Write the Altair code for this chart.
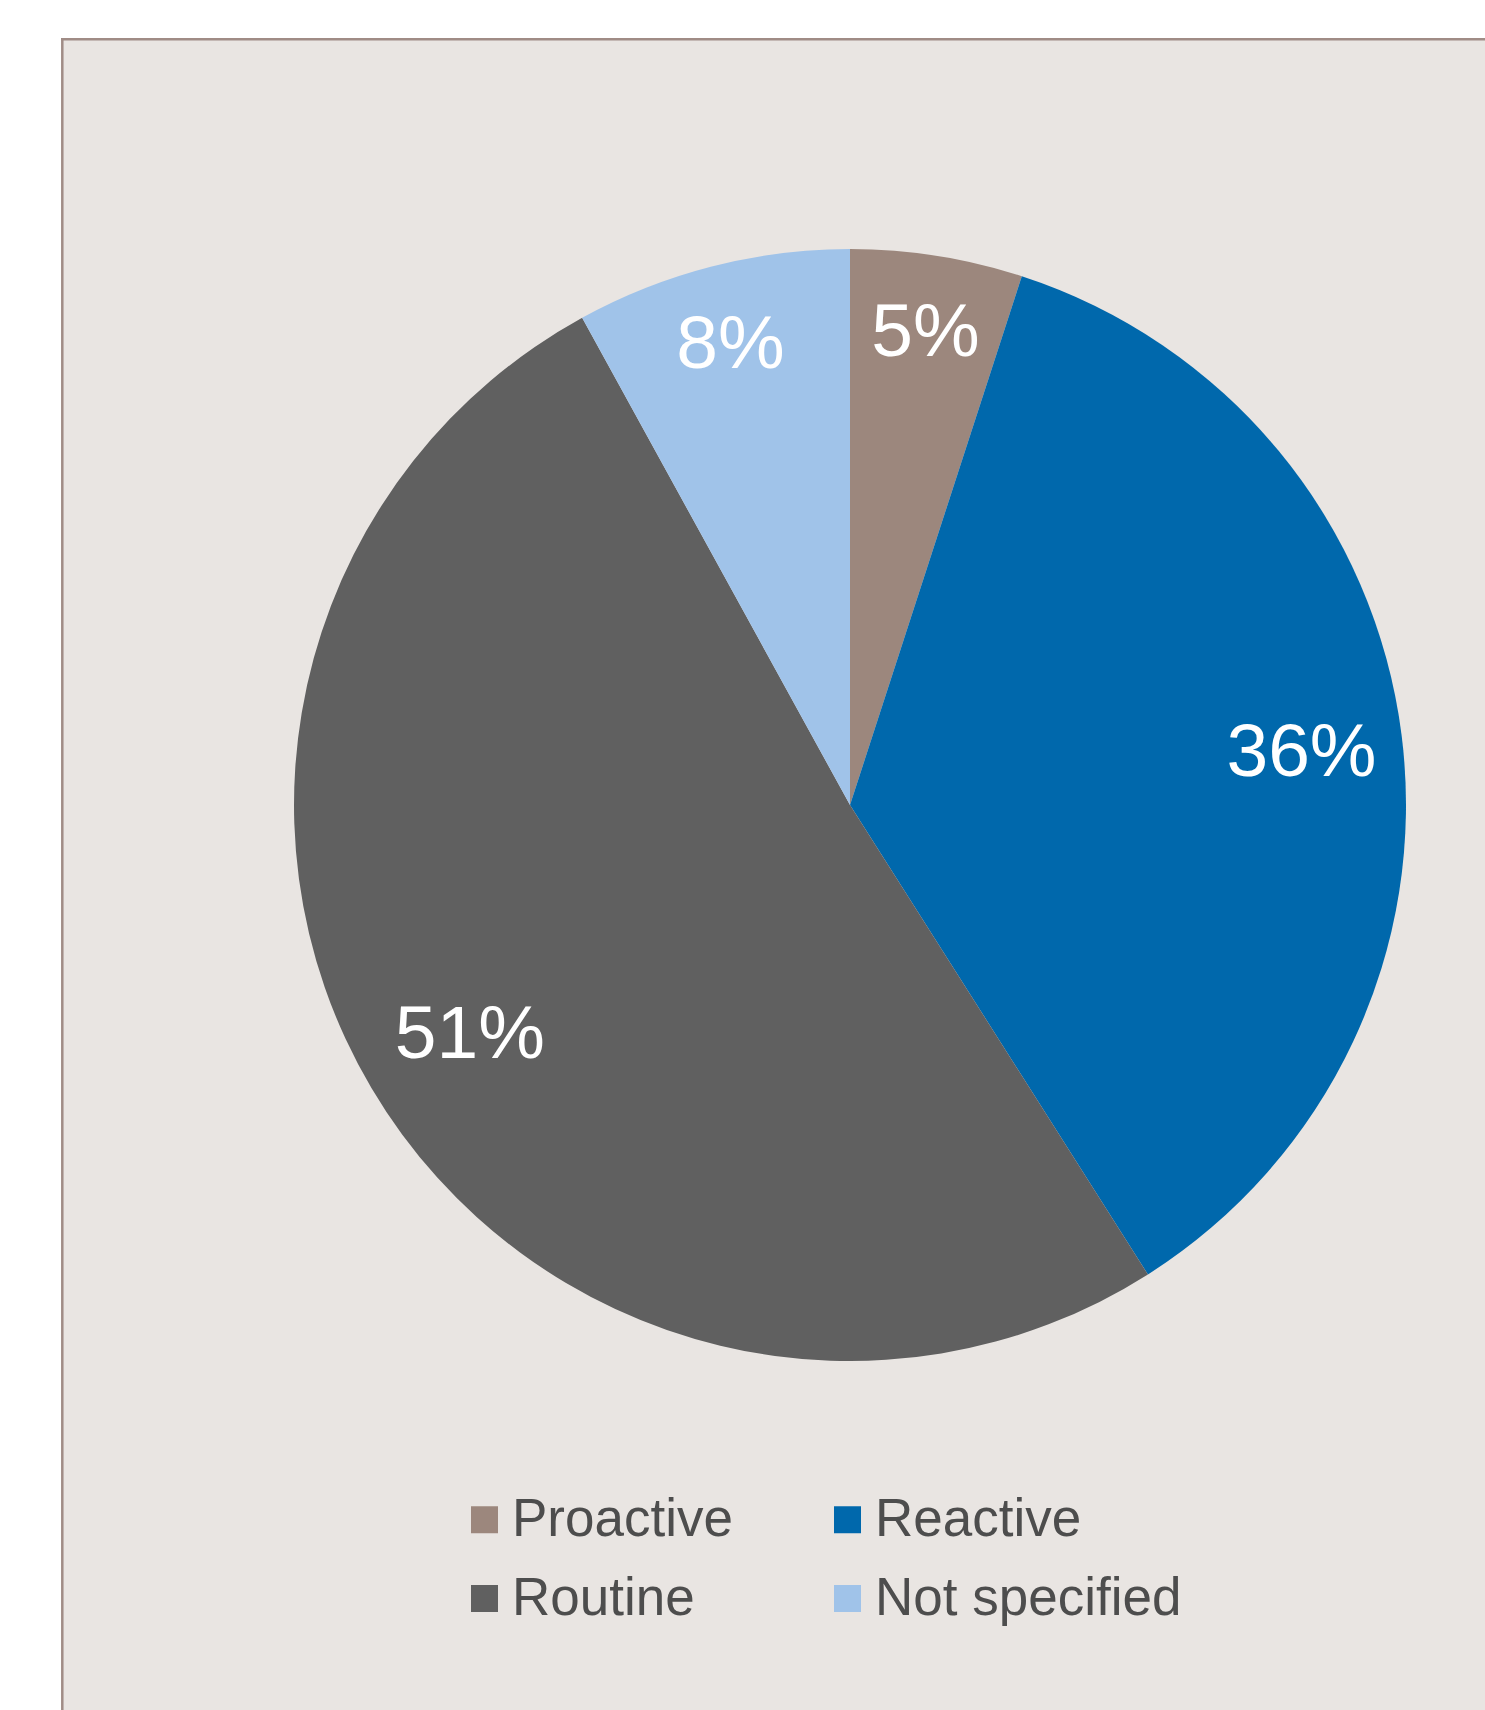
import altair as alt
import pandas as pd

categories = ["Proactive", "Reactive", "Routine", "Not specified"]
values = [5, 36, 51, 8]
labels = ["5%", "36%", "51%", "8%"]
colors = ["#9c877d", "#0068ac", "#606060", "#a0c3e9"]

df = pd.DataFrame({
    "category": categories,
    "value": values,
    "label": labels,
    "order": list(range(len(categories))),
})

W = 1485 - 61
H = 1710 - 38
CX, CY = 850 - 61, 805 - 38
R = 556

base = alt.Chart(df)

color = alt.Color(
    "category:N",
    scale=alt.Scale(domain=categories, range=colors),
    sort=categories,
    legend=alt.Legend(
        title=None,
        orient="none",
        direction="horizontal",
        legendX=397,
        legendY=1455,
        columns=2,
        columnPadding=88,
        rowPadding=25,
        symbolType="square",
        symbolSize=729,
        symbolStrokeWidth=0,
        symbolOpacity=1,
        labelFont="Liberation Sans, Arial",
        labelFontSize=53,
        labelColor="#4d4d4d",
        labelOffset=1,
        labelLimit=600,
        padding=0,
    ),
)

arcs = base.mark_arc(stroke="transparent", strokeWidth=0).encode(
    theta=alt.Theta("value:Q", stack=True),
    order=alt.Order("order:Q"),
    color=color,
    x=alt.value(CX),
    y=alt.value(CY),
    radius=alt.value(R),
)

texts = base.mark_text(
    font="Liberation Sans, Arial",
    fontSize=75,
    color="white",
    align="center",
    baseline="middle",
    dy=5,
).encode(
    theta=alt.Theta("value:Q", stack=True),
    order=alt.Order("order:Q"),
    text="label:N",
    x=alt.value(CX),
    y=alt.value(CY),
    radius=alt.Radius(
        "value:Q",
        scale=alt.Scale(type="linear", zero=False, domain=[0, 100], range=[487.5, 397.5]),
    ),
)

border_data = alt.Data(values=[{"k": 1}])
left_rule = alt.Chart(border_data).mark_rule(color="#a08c86", strokeWidth=2.5).encode(
    x=alt.value(1.3), y=alt.value(0), y2=alt.value(H)
)
top_rule = alt.Chart(border_data).mark_rule(color="#a08c86", strokeWidth=2.5).encode(
    x=alt.value(0), x2=alt.value(W), y=alt.value(1.3)
)

chart = alt.layer(arcs, texts, left_rule, top_rule).properties(
    width=W,
    height=H,
    padding={"left": 61, "top": 38, "right": 0, "bottom": 0},
    autosize=alt.AutoSizeParams(type="none"),
    background="white",
).configure_view(
    fill="#e9e5e2",
    stroke="transparent",
)

chart.save("out.html", embed_options={"renderer": "svg", "actions": False})
